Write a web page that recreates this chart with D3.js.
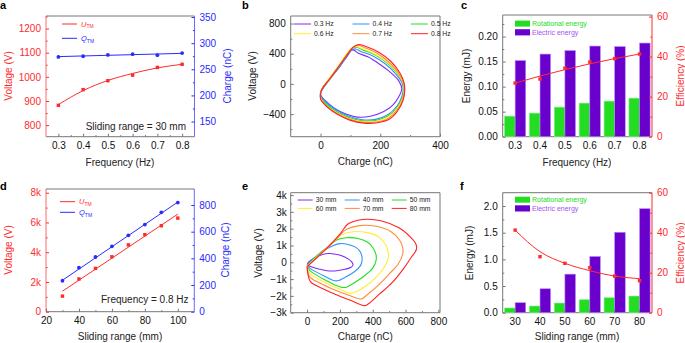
<!DOCTYPE html>
<html>
<head>
<meta charset="utf-8">
<script src="https://cdn.jsdelivr.net/npm/d3@7"></script>
<style>
  body { margin: 0; background: #fff; }
  svg { font-family: "Liberation Sans", Arial, sans-serif; }
</style>
</head>
<body>
<svg id="fig" width="685" height="343"></svg>
<script>
// ---- data ----
const freqs = [0.3, 0.4, 0.5, 0.6, 0.7, 0.8];
const freqLabels = ['0.3', '0.4', '0.5', '0.6', '0.7', '0.8'];
const ranges = [30, 40, 50, 60, 70, 80, 90, 100];
const rangeLabels = ['30', '40', '50', '60', '70', '80'];

// a: voltage / charge vs frequency
const aVoltage = [882, 947, 984, 1007, 1039, 1052];
const aVoltageFit = [885, 943, 985, 1014, 1037, 1052];
const aCharge = [273.7, 275, 277.5, 279, 277, 281];
const aChargeFit = [[0.3, 274.3], [0.8, 280.5]];

// b: V-Q loops at each frequency [charge nC, voltage V]
const bNames = ['0.3 Hz', '0.4 Hz', '0.5 Hz', '0.6 Hz', '0.7 Hz', '0.8 Hz'];
const bLoop03 = [[0,-120],[8,-60],[30,60],[60,210],[88,360],[103,445],[112,448],[125,410],[160,355],[198,260],[235,150],[262,40],[272,-60],[262,-170],[242,-280],[210,-370],[170,-425],[125,-440],[85,-400],[45,-320],[15,-220],[2,-160],[0,-120]];
const bLoop04 = [[0,-110],[10,-50],[35,80],[65,230],[92,390],[108,460],[118,462],[135,430],[175,370],[215,270],[250,140],[272,20],[277,-60],[272,-170],[255,-300],[225,-410],[185,-470],[140,-475],[95,-430],[50,-340],[15,-230],[0,-160],[0,-110]];
const bLoop05 = [[0,-115],[8,-50],[32,80],[62,240],[90,400],[108,480],[122,485],[142,450],[182,385],[222,280],[255,150],[275,20],[279,-60],[273,-190],[255,-320],[225,-430],[185,-485],[140,-490],[95,-445],[50,-360],[15,-250],[0,-170],[0,-115]];
const bLoop06 = [[0,-120],[5,-60],[28,70],[58,230],[85,390],[102,470],[118,495],[138,470],[180,400],[222,290],[257,150],[277,10],[280,-70],[274,-200],[256,-330],[226,-440],[186,-495],[140,-500],[92,-455],[48,-370],[12,-260],[0,-180],[0,-120]];
const bLoop07 = [[0,-125],[5,-65],[30,60],[60,220],[88,385],[108,480],[126,510],[148,480],[188,410],[228,290],[262,140],[279,0],[281,-80],[275,-210],[257,-345],[228,-455],[188,-505],[143,-510],[95,-465],[50,-380],[14,-270],[0,-190],[0,-125]];
const bLoop08 = [[0,-130],[4,-70],[28,55],[58,215],[88,380],[110,490],[128,522],[150,500],[195,420],[235,300],[265,150],[280,10],[282,-80],[276,-220],[258,-360],[230,-470],[190,-515],[145,-520],[98,-480],[55,-400],[18,-290],[0,-200],[0,-130]];

// c: energies and efficiency vs frequency
const cRotational = [0.041, 0.047, 0.059, 0.067, 0.071, 0.077];
const cElectric = [0.152, 0.165, 0.172, 0.181, 0.180, 0.187];
const cEfficiency = [26.8, 28.8, 34.2, 37.3, 39.0, 41.3];
const cEfficiencyFit = [26.8, 30.3, 33.5, 36.4, 39.0, 41.3];

// d: voltage / charge vs sliding range
const dVoltage = [1047, 2200, 2913, 3693, 4493, 5180, 5780, 6293];
const dVoltageFit = [[30, 1380], [100, 6560]];
const dCharge = [232, 330, 410, 490, 573, 653, 745, 818];
const dChargeFit = [[30, 236], [100, 822]];

// e: V-Q loops at each sliding range
const eNames = ['30 mm', '40 mm', '50 mm', '60 mm', '70 mm', '80 mm'];
const eLoop30 = [[0,-150],[10,20],[40,230],[80,420],[128,520],[175,480],[215,380],[250,200],[272,20],[280,-160],[268,-300],[230,-420],[170,-515],[120,-500],[70,-400],[25,-270],[0,-150]];
const eLoop40 = [[0,-180],[25,100],[60,400],[100,700],[150,960],[200,1110],[250,1060],[295,900],[322,650],[333,400],[335,100],[325,-200],[290,-550],[240,-850],[185,-1100],[160,-1080],[110,-850],[60,-600],[20,-380],[0,-180]];
const eLoop50 = [[0,-200],[30,100],[70,450],[110,800],[150,1100],[180,1330],[240,1460],[310,1420],[365,1220],[400,880],[420,450],[420,100],[400,-350],[350,-800],[290,-1200],[240,-1480],[215,-1500],[170,-1350],[110,-1050],[55,-750],[15,-480],[0,-200]];
const eLoop60 = [[0,-220],[35,100],[80,500],[130,950],[180,1400],[210,1640],[280,1820],[360,1780],[430,1550],[475,1100],[493,650],[495,250],[470,-300],[420,-900],[360,-1400],[300,-1750],[265,-1850],[200,-1600],[130,-1300],[60,-950],[15,-650],[0,-220]];
const eLoop70 = [[0,-240],[40,100],[90,550],[150,1100],[200,1600],[230,1900],[320,2180],[420,2140],[510,1830],[565,1300],[583,850],[583,500],[555,-100],[500,-700],[430,-1400],[370,-1900],[330,-2180],[250,-1950],[170,-1650],[80,-1250],[15,-850],[0,-240]];
const eLoop80 = [[0,-260],[40,100],[100,650],[160,1250],[210,1800],[245,2250],[310,2500],[370,2560],[450,2470],[560,2050],[630,1500],[660,1150],[668,900],[660,620],[635,300],[590,-350],[520,-1200],[440,-1900],[370,-2500],[350,-2580],[260,-2250],[170,-1900],[90,-1550],[20,-1150],[5,-700],[0,-260]];

// f: energies and efficiency vs sliding range
const fRotational = [0.088, 0.125, 0.181, 0.243, 0.280, 0.312];
const fElectric = [0.187, 0.449, 0.723, 1.054, 1.508, 1.950];
const fEfficiency = [41.3, 28.0, 24.7, 22.5, 18.3, 16.0];
const fEfficiencyFit = [41.3, 30.5, 24.7, 21.0, 18.3, 17.0];

// ---- styling ----
const red = '#ff2b2b', blue = '#2b2bff', frameGray = '#777';
const green = '#22dd22', purple = '#6a00cc';
const loopColors = ['#7d2cf5', '#2f93ff', '#22dd22', '#ffee33', '#ff8a3d', '#ff2222'];
const fs = 10;

const svg = d3.select('#fig');

function frame(x, y, leftColor, rightColor) {
  const [x0, x1] = x.range();
  const [y0, y1] = y.range();
  const g = svg.append('g').attr('stroke-width', 1);
  g.append('line').attr('x1', x0).attr('x2', x1).attr('y1', y1).attr('y2', y1).attr('stroke', frameGray);
  g.append('line').attr('x1', x0).attr('x2', x1).attr('y1', y0).attr('y2', y0).attr('stroke', frameGray);
  g.append('line').attr('x1', x0).attr('x2', x0).attr('y1', y0).attr('y2', y1).attr('stroke', leftColor);
  g.append('line').attr('x1', x1).attr('x2', x1).attr('y1', y0).attr('y2', y1).attr('stroke', rightColor);
}

function axis(scale, orient, pos, major, minor, color, fmt, pad) {
  const make = orient === 'left' ? d3.axisLeft : orient === 'right' ? d3.axisRight : d3.axisBottom;
  const tr = orient === 'bottom' ? `translate(0,${pos})` : `translate(${pos},0)`;
  const g = svg.append('g').attr('transform', tr);
  const ax = make(scale).tickSize(-3).tickPadding(pad);
  if (major) ax.tickValues(major);
  if (fmt) ax.tickFormat(fmt);
  g.call(ax);
  g.attr('font-size', null).attr('font-family', null);
  g.select('.domain').remove();
  g.selectAll('line').attr('stroke', color === '#000' ? frameGray : color);
  g.selectAll('text').attr('fill', color === '#000' ? '#111' : color).style('font-size', fs + 'px');
  if (minor) {
    const m = svg.append('g').attr('transform', tr);
    m.call(make(scale).tickValues(minor).tickSize(-1.6).tickFormat(''));
    m.select('.domain').remove();
    m.selectAll('line').attr('stroke', color === '#000' ? frameGray : color);
  }
}

function title(txt, x, y, color, rotate) {
  const t = svg.append('text')
    .attr('text-anchor', 'middle')
    .attr('fill', color)
    .style('font-size', fs + 'px')
    .text(txt);
  if (rotate) t.attr('transform', `translate(${x},${y}) rotate(-90)`);
  else t.attr('x', x).attr('y', y);
  return t;
}

function letter(txt, x, y) {
  svg.append('text').attr('x', x).attr('y', y)
    .style('font-size', '11px').style('font-weight', 'bold').text(txt);
}

function seriesLegend(x, y, color, sym) {
  svg.append('line').attr('x1', x).attr('x2', x + 15).attr('y1', y).attr('y2', y)
    .attr('stroke', color).attr('stroke-width', 1);
  const t = svg.append('text').attr('x', x + 19).attr('y', y + 2.5).attr('fill', color)
    .style('font-size', '7.5px');
  t.append('tspan').style('font-style', 'italic').text(sym);
  t.append('tspan').attr('dy', 1.8).style('font-size', '5px').text('TM');
}

function squares(data, x, y, color, size) {
  svg.append('g').selectAll('rect').data(data).enter().append('rect')
    .attr('x', d => x(d[0]) - size / 2).attr('y', d => y(d[1]) - size / 2)
    .attr('width', size).attr('height', size).attr('fill', color);
}

function dots(data, x, y, color, r) {
  svg.append('g').selectAll('circle').data(data).enter().append('circle')
    .attr('cx', d => x(d[0])).attr('cy', d => y(d[1])).attr('r', r).attr('fill', color);
}

function path(data, x, y, color, curve, w) {
  svg.append('path').datum(data)
    .attr('fill', 'none').attr('stroke', color).attr('stroke-width', w || 1)
    .attr('stroke-linejoin', 'round')
    .attr('d', d3.line().x(d => x(d[0])).y(d => y(d[1])).curve(curve || d3.curveLinear));
}

function loopLegend(names, x0, y0, colW, rowH, lineW) {
  names.forEach((n, i) => {
    const cx = x0 + (i % 3) * colW;
    const cy = y0 + Math.floor(i / 3) * rowH;
    svg.append('line').attr('x1', cx).attr('x2', cx + lineW).attr('y1', cy).attr('y2', cy)
      .attr('stroke', loopColors[i]).attr('stroke-width', 1);
    svg.append('text').attr('x', cx + lineW + 3).attr('y', cy + 2.3)
      .style('font-size', '6.8px').attr('fill', '#222').text(n);
  });
}

function energyPanel(labels, rot, ele, eff, effFit, yL, yR, legendY) {
  const x0 = d3.scaleBand().domain(labels).range([502.7, 652]).paddingInner(0.15).paddingOuter(0.075);
  const x1 = d3.scaleBand().domain(['rot', 'ele']).range([0, x0.bandwidth()]);
  frame(x0, yL, frameGray, red);
  const g = svg.append('g');
  labels.forEach((c, i) => {
    g.append('rect').attr('x', x0(c) + x1('rot')).attr('y', yL(rot[i]))
      .attr('width', x1.bandwidth()).attr('height', yL(0) - yL(rot[i]))
      .attr('fill', green).attr('stroke', '#7df07d').attr('stroke-width', 0.6);
    g.append('rect').attr('x', x0(c) + x1('ele')).attr('y', yL(ele[i]))
      .attr('width', x1.bandwidth()).attr('height', yL(0) - yL(ele[i]))
      .attr('fill', purple).attr('stroke', '#b48cff').attr('stroke-width', 0.6);
  });
  const xc = l => x0(l) + x0.bandwidth() / 2;
  const xs = d3.scalePoint().domain(labels).range([xc(labels[0]), xc(labels[labels.length - 1])]);
  path(labels.map((l, i) => [l, effFit[i]]), xs, yR, red, d3.curveMonotoneX);
  squares(labels.map((l, i) => [l, eff[i]]), xs, yR, red, 3.4);
  axis(x0, 'bottom', yL.range()[0], null, null, '#000', null, 5.5);
  // legend
  svg.append('rect').attr('x', 515).attr('y', legendY).attr('width', 15).attr('height', 6).attr('fill', green);
  svg.append('text').attr('x', 532).attr('y', legendY + 5.6).attr('fill', green).style('font-size', '7px').text('Rotational energy');
  svg.append('rect').attr('x', 515).attr('y', legendY + 8.6).attr('width', 15).attr('height', 6.2).attr('fill', purple);
  svg.append('text').attr('x', 532).attr('y', legendY + 14.2).attr('fill', '#a552f5').style('font-size', '7px').text('Electric energy');
}

// ---------- panel a ----------
{
  const x = d3.scaleLinear().domain([0.25, 0.85]).range([46, 194.5]);
  const yL = d3.scaleLinear().domain([752, 1252]).range([136.7, 16]);
  const yR = d3.scaleLinear().domain([121, 352]).range([136.7, 16]);
  frame(x, yL, '#ff6a6a', '#6a6aff');
  axis(x, 'bottom', 136.7, freqs, [0.35, 0.45, 0.55, 0.65, 0.75], '#000', d3.format('.1f'), 5.5);
  axis(yL, 'left', 46, [800, 900, 1000, 1100, 1200], [850, 950, 1050, 1150, 1250], red, d3.format('d'), 5);
  axis(yR, 'right', 194.5, [150, 200, 250, 300, 350], [175, 225, 275, 325], blue, d3.format('d'), 5);
  path(freqs.map((f, i) => [f, aVoltageFit[i]]), x, yL, red, d3.curveMonotoneX);
  squares(freqs.map((f, i) => [f, aVoltage[i]]), x, yL, red, 3.4);
  path(aChargeFit, x, yR, blue);
  dots(freqs.map((f, i) => [f, aCharge[i]]), x, yR, blue, 1.9);
  seriesLegend(62, 24, red, 'U');
  seriesLegend(62, 38.3, blue, 'Q');
  svg.append('text').attr('x', 186).attr('y', 129.5).attr('text-anchor', 'end')
    .style('font-size', '10px').attr('fill', '#222').text('Sliding range = 30 mm');
  title('Frequency (Hz)', 120, 165.5, '#222');
  title('Voltage (V)', 11.5, 76, red, true);
  title('Charge (nC)', 230.5, 76, blue, true);
  letter('a', 0, 9);
}

// ---------- panel b ----------
{
  const x = d3.scaleLinear().domain([-100, 400]).range([290.7, 440]);
  const y = d3.scaleLinear().domain([-700, 900]).range([136.7, 16]);
  frame(x, y, frameGray, frameGray);
  axis(x, 'bottom', 136.7, [0, 200, 400], [100, 300], '#000', null, 5.5);
  axis(y, 'left', 290.7, [-400, 0, 400, 800], [-600, -200, 200, 600], '#000', d => d < 0 ? '\u2212' + Math.abs(d) : d, 5);
  [bLoop03, bLoop04, bLoop05, bLoop06, bLoop07, bLoop08].forEach((l, i) =>
    path(l, x, y, loopColors[i], d3.curveCatmullRom.alpha(0.5), 1.1));
  loopLegend(bNames, 294, 24, 58.5, 9.7, 17);
  title('Charge (nC)', 365.3, 164.5, '#222');
  title('Voltage (V)', 255.5, 76, '#222', true);
  letter('b', 242, 9);
}

// ---------- panel c ----------
{
  const yL = d3.scaleLinear().domain([0, 0.243]).range([136.7, 15]);
  const yR = d3.scaleLinear().domain([0, 60.8]).range([136.7, 15]);
  energyPanel(freqLabels, cRotational, cElectric, cEfficiency, cEfficiencyFit, yL, yR, 20.6);
  axis(yL, 'left', 502.7, [0, 0.05, 0.1, 0.15, 0.2], [0.025, 0.075, 0.125, 0.175, 0.225], '#000', d3.format('.2f'), 5);
  axis(yR, 'right', 652, [0, 20, 40, 60], [10, 30, 50], red, null, 5);
  title('Frequency (Hz)', 577, 165.5, '#222');
  title('Energy (mJ)', 470, 76, '#222', true);
  title('Efficiency (%)', 683.5, 76, red, true);
  letter('c', 461, 9);
}

// ---------- panel d ----------
{
  const x = d3.scaleLinear().domain([20, 110]).range([46, 194.3]);
  const yL = d3.scaleLinear().domain([0, 8250]).range([311.7, 189]);
  const yR = d3.scaleLinear().domain([0, 920]).range([311.7, 189]);
  frame(x, yL, '#ff6a6a', '#6a6aff');
  axis(x, 'bottom', 311.7, [20, 40, 60, 80, 100], [30, 50, 70, 90], '#000', null, 5.5);
  axis(yL, 'left', 46, [0, 2000, 4000, 6000, 8000], [1000, 3000, 5000, 7000], red, d => d === 0 ? '0' : d / 1000 + 'k', 5);
  axis(yR, 'right', 194.3, [0, 200, 400, 600, 800], [100, 300, 500, 700], blue, null, 5);
  path(dVoltageFit, x, yL, red);
  squares(ranges.map((r, i) => [r, dVoltage[i]]), x, yL, red, 3.4);
  path(dChargeFit, x, yR, blue);
  dots(ranges.map((r, i) => [r, dCharge[i]]), x, yR, blue, 1.9);
  seriesLegend(60, 201.7, red, 'U');
  seriesLegend(60, 212.3, blue, 'Q');
  svg.append('text').attr('x', 188.5).attr('y', 302.8).attr('text-anchor', 'end')
    .style('font-size', '10px').attr('fill', '#222').text('Frequency = 0.8 Hz');
  title('Sliding range (mm)', 120, 339.5, '#222');
  title('Voltage (V)', 11.5, 250, red, true);
  title('Charge (nC)', 228.5, 250, blue, true);
  letter('d', 0, 190);
}

// ---------- panel e ----------
{
  const x = d3.scaleLinear().domain([-100, 810]).range([290.7, 440]);
  const y = d3.scaleLinear().domain([-3000, 4140]).range([312.7, 192.7]);
  frame(x, y, frameGray, frameGray);
  axis(x, 'bottom', 312.7, [0, 200, 400, 600, 800], [100, 300, 500, 700], '#000', null, 5.5);
  axis(y, 'left', 290.7, [-3000, -2000, -1000, 0, 1000, 2000, 3000, 4000],
    [-2500, -1500, -500, 500, 1500, 2500, 3500], '#000',
    d => d === 0 ? '0' : (d < 0 ? '\u2212' : '') + Math.abs(d) / 1000 + 'k', 4);
  [eLoop30, eLoop40, eLoop50, eLoop60, eLoop70, eLoop80].forEach((l, i) =>
    path(l, x, y, loopColors[i], d3.curveCatmullRom.alpha(0.5), 1.1));
  loopLegend(eNames, 297.7, 200, 47, 8.4, 15);
  title('Charge (nC)', 365.3, 339.5, '#222');
  title('Voltage (V)', 261.5, 253, '#222', true);
  letter('e', 242, 190);
}

// ---------- panel f ----------
{
  const yL = d3.scaleLinear().domain([0, 2.25]).range([312.7, 192.7]);
  const yR = d3.scaleLinear().domain([0, 60]).range([312.7, 192.7]);
  energyPanel(rangeLabels, fRotational, fElectric, fEfficiency, fEfficiencyFit, yL, yR, 196.7);
  axis(yL, 'left', 502.7, [0, 0.5, 1, 1.5, 2], [0.25, 0.75, 1.25, 1.75], '#000', d3.format('.1f'), 5);
  axis(yR, 'right', 652, [0, 20, 40, 60], [10, 30, 50], red, null, 5);
  title('Sliding range (mm)', 577, 339.5, '#222');
  title('Energy (mJ)', 473, 253, '#222', true);
  title('Efficiency (%)', 683.5, 253, red, true);
  letter('f', 460, 190);
}
</script>
</body>
</html>
